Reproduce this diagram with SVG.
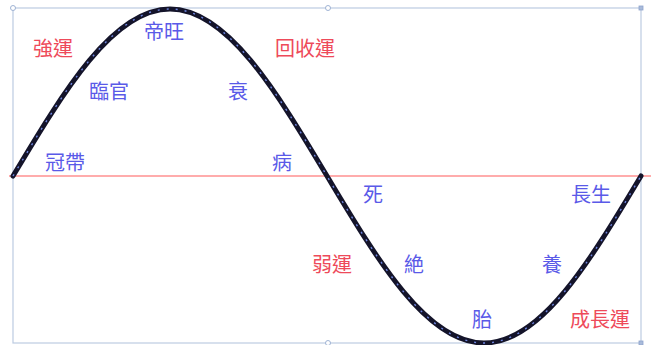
<svg xmlns="http://www.w3.org/2000/svg" width="651" height="345" viewBox="0 0 651 345">
<style>
.t{font-family:"Noto Sans CJK TC","Noto Sans CJK JP",sans-serif;font-size:20px}
.r{fill:#ee4a5a}
.b{fill:#5a5ae8}
.h{fill:#ffffff;stroke:#9fb3d4;stroke-width:1}
</style>
<rect width="651" height="345" fill="#ffffff"/>
<g id="frame">
<rect x="13" y="8" width="628" height="335" fill="none" stroke="#bccbe2" stroke-width="1.2"/>
<circle class="h" cx="13" cy="8" r="2.5"/>
<circle class="h" cx="328" cy="8" r="2.5"/>
<rect x="639" y="6" width="4" height="4" fill="#a9bbda" stroke="#8ea4cc" stroke-width="0.8"/>
<circle class="h" cx="328" cy="343" r="2.5"/>
<rect x="639" y="341" width="4" height="4" fill="#a9bbda" stroke="#8ea4cc" stroke-width="0.8"/>
</g>
<g id="connectors">
<line x1="9" y1="176" x2="651" y2="176" stroke="#ff9090" stroke-width="1.5"/>
<path id="wave" d="M13,176 C64.2,90.4 113.2,9 170,9 C226.8,9 275.8,90.4 327,176 C378.2,261.6 427.2,343 484,343 C540.8,343 589.8,261.6 641,176" fill="none" stroke="#14142a" stroke-width="5" stroke-linecap="round"/>
<path d="M13,176 C64.2,90.4 113.2,9 170,9 C226.8,9 275.8,90.4 327,176 C378.2,261.6 427.2,343 484,343 C540.8,343 589.8,261.6 641,176" fill="none" stroke="#6f86e0" stroke-width="1.4" stroke-dasharray="2 7"/>
</g>
<g id="n-qiangyun"><text class="t r" x="33" y="56">強運</text></g>
<g id="n-diwang"><text class="t b" x="144" y="39">帝旺</text></g>
<g id="n-linguan"><text class="t b" x="89" y="99">臨官</text></g>
<g id="n-huishouyun"><text class="t r" x="275" y="56">回收運</text></g>
<g id="n-shuai"><text class="t b" x="228" y="99">衰</text></g>
<g id="n-guandai"><text class="t b" x="45" y="170">冠帶</text></g>
<g id="n-bing"><text class="t b" x="272" y="170">病</text></g>
<g id="n-si"><text class="t b" x="363" y="202">死</text></g>
<g id="n-changsheng"><text class="t b" x="571" y="202">長生</text></g>
<g id="n-ruoyun"><text class="t r" x="312" y="272">弱運</text></g>
<g id="n-jue"><text class="t b" x="404" y="272">絶</text></g>
<g id="n-yang"><text class="t b" x="542" y="272">養</text></g>
<g id="n-tai"><text class="t b" x="472" y="327">胎</text></g>
<g id="n-chengzhangyun"><text class="t r" x="570" y="327">成長運</text></g>
</svg>
